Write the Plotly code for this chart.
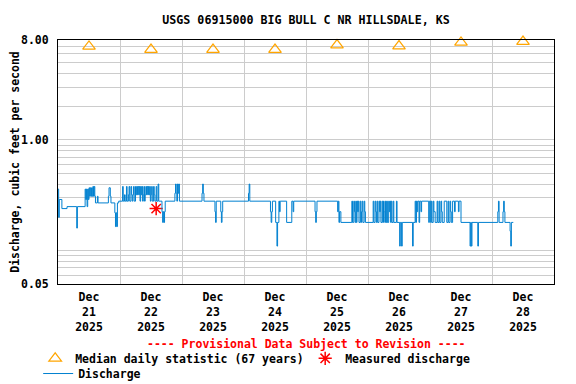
import pandas as pd
import plotly.graph_objects as go

# median daily statistic (67 years), one per day at noon
median_days = ['2025-12-21 12:00', '2025-12-22 12:00', '2025-12-23 12:00', '2025-12-24 12:00',
               '2025-12-25 12:00', '2025-12-26 12:00', '2025-12-27 12:00', '2025-12-28 12:00']
median_cfs = [7.0, 6.56, 6.56, 6.56, 7.2, 7.05, 7.6, 7.75]

# field measurement
measured_time = ['2025-12-22 14:00']
measured_cfs = [0.24]

# 15-min discharge, step changes (hours after 2025-12-21 00:00)
flow_hours = [
    0.0, 0.25, 0.5, 1.5, 3.5, 7.25, 7.5,
    10.5, 10.75, 11.0, 11.25, 11.5, 11.75, 12.0, 12.25,
    12.5, 12.75, 13.0, 13.25, 13.5, 13.75, 14.0, 14.25,
    14.5, 15.25, 15.5, 19.5, 19.75, 20.25, 20.5,
    22.0, 22.25, 22.5, 22.75, 23.0, 23.5,
    25.0, 25.25, 25.75, 26.0, 26.5, 26.75, 27.25, 27.5,
    27.75, 28.25, 28.5, 28.75, 29.0, 29.25, 29.5, 30.0,
    30.25, 30.5, 30.75, 31.0, 31.25, 31.5, 31.75, 32.0,
    32.25, 32.5, 32.75, 33.0, 33.25, 33.5, 33.75, 34.0,
    34.25, 34.5, 34.75, 35.0, 35.25, 35.5, 35.75, 36.0,
    36.25, 36.5, 37.0, 37.25, 37.5, 38.0, 38.25, 38.75, 39.0,
    40.25, 40.5, 40.75, 41.0, 41.25, 41.5,
    45.25, 45.5, 45.75, 46.0, 46.25, 46.5, 46.75, 47.0,
    55.75, 56.0, 56.25, 56.5, 60.75, 61.0, 61.25,
    63.0, 63.25, 63.5, 63.75, 73.75, 74.0, 74.25,
    82.25, 82.5, 82.75, 83.0, 84.25, 84.75, 85.0, 85.5, 85.75, 86.0,
    88.5, 90.5, 91.0, 91.25, 99.5, 99.75, 100.0, 100.25,
    108.25, 108.5, 108.75, 109.0, 109.5,
    113.75, 114.0, 114.5, 114.75, 115.0, 115.25, 115.5, 115.75,
    116.0, 116.25, 116.5, 117.0, 117.25, 117.5, 117.75, 118.0,
    118.5, 118.75, 119.0,
    122.0, 122.25, 122.75, 123.0, 123.25, 123.5, 123.75, 124.25,
    124.5, 124.75, 125.0, 125.5, 125.75, 126.0, 126.25, 126.5,
    126.75, 127.0, 127.25, 127.5, 128.0, 128.25, 128.5, 128.75,
    129.0, 129.25, 129.75, 130.0, 131.0, 131.25,
    132.25, 132.5, 133.0, 133.25, 137.25, 137.5,
    138.25, 138.5, 138.75, 139.0, 139.25, 139.75, 140.0, 140.5, 140.75,
    143.5, 143.75, 144.25, 144.5, 144.75, 145.25, 145.5, 146.0,
    146.75, 147.0, 147.5, 147.75, 148.25, 148.5, 148.75, 149.5,
    150.5, 151.0, 151.25, 151.75, 152.0, 152.25,
    152.75, 153.5, 153.75, 155.0, 155.25, 156.0,
    159.5, 159.75, 160.0, 160.25, 162.5, 162.75,
    170.25, 170.5, 170.75, 172.25, 172.5, 172.75, 173.0,
    175.0, 175.25, 175.5, 176.25,
]
flow_cfs = [
    0.36, 0.20, 0.29, 0.24, 0.25, 0.16, 0.25,
    0.36, 0.29, 0.36, 0.25, 0.36, 0.29, 0.37, 0.31,
    0.37, 0.31, 0.37, 0.31, 0.38, 0.31, 0.38, 0.31,
    0.27, 0.31, 0.27, 0.31, 0.37, 0.31, 0.27,
    0.22, 0.165, 0.22, 0.165, 0.27, 0.28,
    0.38, 0.28, 0.32, 0.28, 0.38, 0.28, 0.32, 0.38,
    0.28, 0.38, 0.32, 0.28, 0.32, 0.38, 0.28, 0.38,
    0.32, 0.38, 0.32, 0.38, 0.32, 0.38, 0.28, 0.38,
    0.32, 0.38, 0.28, 0.32, 0.38, 0.28, 0.32, 0.38,
    0.32, 0.38, 0.32, 0.38, 0.32, 0.38, 0.28, 0.32,
    0.38, 0.28, 0.38, 0.32, 0.28, 0.38, 0.28, 0.40, 0.28,
    0.225, 0.18, 0.225, 0.18, 0.225, 0.28,
    0.33, 0.40, 0.33, 0.28, 0.40, 0.33, 0.40, 0.28,
    0.33, 0.40, 0.33, 0.28, 0.225, 0.18, 0.28,
    0.225, 0.18, 0.225, 0.28, 0.33, 0.40, 0.28,
    0.225, 0.18, 0.225, 0.28, 0.18, 0.11, 0.18, 0.28, 0.225, 0.28,
    0.18, 0.28, 0.225, 0.28, 0.225, 0.18, 0.225, 0.28,
    0.225, 0.28, 0.18, 0.225, 0.18,
    0.28, 0.18, 0.28, 0.225, 0.18, 0.28, 0.18, 0.28,
    0.225, 0.28, 0.18, 0.28, 0.18, 0.225, 0.28, 0.18,
    0.28, 0.225, 0.18,
    0.28, 0.18, 0.28, 0.225, 0.18, 0.28, 0.18, 0.28,
    0.225, 0.28, 0.18, 0.28, 0.18, 0.28, 0.225, 0.18,
    0.28, 0.18, 0.28, 0.18, 0.28, 0.225, 0.28, 0.18,
    0.28, 0.18, 0.28, 0.18, 0.28, 0.18,
    0.11, 0.18, 0.11, 0.18, 0.11, 0.18,
    0.28, 0.18, 0.28, 0.225, 0.28, 0.18, 0.28, 0.225, 0.28,
    0.18, 0.28, 0.18, 0.28, 0.18, 0.28, 0.225, 0.18,
    0.28, 0.18, 0.28, 0.18, 0.28, 0.225, 0.18, 0.28,
    0.18, 0.28, 0.18, 0.28, 0.225, 0.18,
    0.28, 0.225, 0.28, 0.225, 0.28, 0.18,
    0.11, 0.18, 0.11, 0.18, 0.11, 0.18,
    0.225, 0.28, 0.18, 0.225, 0.28, 0.225, 0.18,
    0.15, 0.11, 0.18, 0.18,
]

y_ticks = [0.05, 1, 8]
y_ticktext = ['0.05', '1.00', '8.00']
y_minor = [0.06, 0.07, 0.08, 0.09, 0.1, 0.2, 0.3, 0.4, 0.5, 0.6, 0.7, 0.8, 0.9,
           2, 3, 4, 5, 6, 7]

base = pd.Timestamp('2025-12-21')
flow_time = base + pd.to_timedelta(flow_hours, unit='h')

mono = 'DejaVu Sans Mono'
fnt = dict(family=mono, size=11.5, color='black', weight='bold')

fig = go.Figure()
fig.add_trace(go.Scatter(x=pd.to_datetime(median_days), y=median_cfs, mode='markers',
                         name='Median daily statistic (67 years)', cliponaxis=False,
                         marker=dict(symbol='triangle-up-open', size=11, color='#ffa500',
                                     line=dict(width=1.2, color='#ffa500'))))
fig.add_trace(go.Scatter(x=pd.to_datetime(measured_time), y=measured_cfs, mode='markers',
                         name='Measured discharge',
                         marker=dict(symbol='asterisk-open', size=11, color='red',
                                     line=dict(width=1.5, color='red'))))
fig.add_trace(go.Scatter(x=flow_time, y=flow_cfs, mode='lines', name='Discharge',
                         legend='legend2',
                         line=dict(color='#0080d0', width=1, shape='hv')))

leg = dict(orientation='h', xanchor='left', yanchor='top', font=fnt,
           traceorder='normal', itemwidth=30, bgcolor='rgba(0,0,0,0)')

# page body keeps an 8px margin, so the figure is 8px smaller than the window
fig.update_layout(
    width=560, height=376,
    margin=dict(l=50, r=14, t=32, b=100, autoexpand=False),
    plot_bgcolor='white', paper_bgcolor='white',
    font=fnt,
    title=dict(text='USGS 06915000 BIG BULL C NR HILLSDALE, KS', x=0.5, xref='paper',
               xanchor='center', y=0.967, yref='container', yanchor='middle',
               font=dict(family=mono, size=11.65, color='black', weight='bold')),
    xaxis=dict(type='date', range=['2025-12-21', '2025-12-29'], automargin=False,
               dtick=86400000, tick0='2025-12-21', tickformat='%b<br>%d<br>%Y',
               ticklabelmode='period', ticks='', ticklabelstandoff=2,
               showgrid=True, gridcolor='#cccccc',
               gridwidth=1, showline=True, mirror=True, linecolor='black', linewidth=1,
               zeroline=False, tickfont=fnt),
    yaxis=dict(type='log', range=[-1.30103, 0.90309], tickmode='array', automargin=False,
               tickvals=y_ticks, ticktext=y_ticktext, ticks='', ticklabelstandoff=6,
               showgrid=True, gridcolor='#cccccc', gridwidth=1,
               minor=dict(tickmode='array', tickvals=y_minor, showgrid=True,
                          gridcolor='#cccccc', gridwidth=1, ticks=''),
               showline=True, mirror=True, linecolor='black', linewidth=1,
               title=dict(text='Discharge, cubic feet per second', standoff=5, font=fnt),
               tickfont=fnt),
    showlegend=True,
    legend=dict(leg, x=-0.046, y=-0.245, entrywidth=225),
    legend2=dict(leg, x=-0.04, y=-0.3075),
    annotations=[dict(text='---- Provisional Data Subject to Revision ----',
                      x=0.5, y=-0.245, xref='paper', yref='paper', showarrow=False,
                      xanchor='center', yanchor='middle',
                      font=dict(family=mono, size=11.5, color='red', weight='bold'))],
)

fig.write_html("out.html")
